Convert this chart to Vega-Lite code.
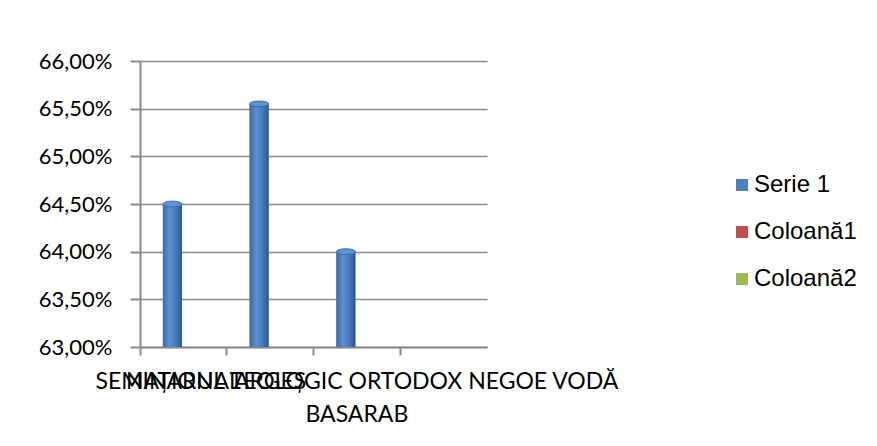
{
  "$schema": "https://vega.github.io/schema/vega-lite/v6.json",
  "width": 347,
  "height": 286,
  "autosize": {"type": "none"},
  "padding": {"left": 140, "top": 61, "right": 390, "bottom": 99},
  "background": "white",
  "config": {
    "view": {"stroke": null},
    "font": "Lato",
    "legend": {
      "orient": "none",
      "legendX": 590,
      "legendY": 112,
      "symbolType": "square",
      "symbolSize": 144,
      "symbolStrokeWidth": 0,
      "labelFont": "Liberation Sans",
      "labelFontSize": 24,
      "labelColor": "#000000",
      "labelOffset": 0,
      "rowPadding": 23,
      "labelLimit": 300
    }
  },
  "data": {
    "values": [
      {"categorie": "NAȚIONAL", "serie": "Serie 1", "valoare": 0.645},
      {"categorie": "ARGEȘ", "serie": "Serie 1", "valoare": 0.6555},
      {"categorie": "SEMINARUL TEOLOGIC ORTODOX NEGOE VODĂ BASARAB", "serie": "Serie 1", "valoare": 0.64}
    ]
  },
  "encoding": {
    "x": {
      "field": "categorie",
      "type": "nominal",
      "sort": null,
      "scale": {
        "domain": ["NAȚIONAL", "ARGEȘ", "SEMINARUL TEOLOGIC ORTODOX NEGOE VODĂ BASARAB", " "],
        "paddingInner": 0,
        "paddingOuter": 0
      },
      "axis": {
        "title": null,
        "bandPosition": 0,
        "labelAngle": 0,
        "labelLimit": 1000,
        "labelOverlap": false,
        "labelBound": false,
        "labelFlush": false,
        "labelFont": "Lato",
        "labelFontSize": 23,
        "labelColor": "#000000",
        "labelPadding": 15,
        "labelLineHeight": 33,
        "labelBaseline": "top",
        "labelExpr": "datum.label == 'SEMINARUL TEOLOGIC ORTODOX NEGOE VODĂ BASARAB' ? ['SEMINARUL TEOLOGIC ORTODOX  NEGOE VODĂ', 'BASARAB'] : datum.label",
        "tickSize": 8,
        "tickWidth": 2,
        "tickColor": "#8c8c8c",
        "domainColor": "#8c8c8c",
        "domainWidth": 2,
        "grid": false
      }
    },
    "y": {
      "field": "valoare",
      "type": "quantitative",
      "scale": {"domain": [0.63, 0.66], "zero": false, "nice": false},
      "axis": {
        "title": null,
        "values": [0.63, 0.635, 0.64, 0.645, 0.65, 0.655, 0.66],
        "labelExpr": "replace(format(datum.value, '.2%'), '.', ',')",
        "labelFont": "Lato",
        "labelFontSize": 22,
        "labelColor": "#000000",
        "labelPadding": 18,
        "tickSize": 10,
        "tickWidth": 2,
        "tickColor": "#8c8c8c",
        "domainColor": "#8c8c8c",
        "domainWidth": 2,
        "gridColor": "#8c8c8c",
        "gridWidth": 1.5
      }
    }
  },
  "layer": [
    {
      "mark": {"type": "bar", "width": 19, "xOffset": -11},
      "encoding": {
        "y2": {"datum": 0.63},
        "color": {
          "field": "serie",
          "type": "nominal",
          "scale": {"domain": ["Serie 1", "Coloană1", "Coloană2"], "range": ["#4F81BD", "#C0504D", "#9BBB59"]},
          "legend": {"title": null}
        }
      }
    },
    {
      "mark": {
        "type": "bar",
        "width": 19,
        "xOffset": -11,
        "fill": {
          "gradient": "linear",
          "x1": 0, "x2": 1, "y1": 0, "y2": 0,
          "stops": [
            {"offset": 0, "color": "#3b6aa6"},
            {"offset": 0.35, "color": "#5d90d2"},
            {"offset": 0.65, "color": "#4a7dbd"},
            {"offset": 1, "color": "#2d578e"}
          ]
        }
      },
      "encoding": {"y2": {"datum": 0.63}}
    },
    {
      "mark": {
        "type": "point",
        "shape": "M-1,0A1,0.3,0,1,1,1,0A1,0.3,0,1,1,-1,0Z",
        "size": 361,
        "filled": true,
        "fill": "#5f92d4",
        "stroke": "#3b6aa6",
        "strokeWidth": 1,
        "opacity": 1,
        "xOffset": -11
      },
      "encoding": {}
    }
  ]
}
